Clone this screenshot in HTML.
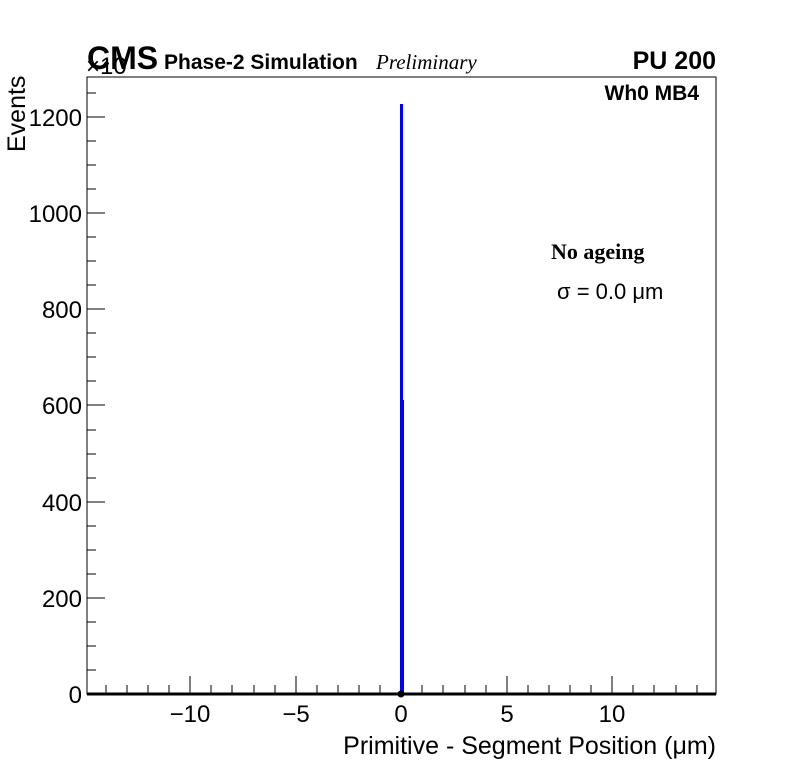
<!DOCTYPE html>
<html><head><style>body{margin:0;background:#fff}svg{display:block}</style></head><body>
<svg width="796" height="772" xmlns="http://www.w3.org/2000/svg" font-family="Liberation Sans, sans-serif">
<rect width="796" height="772" fill="#fff"/>
<rect x="87" y="77" width="629" height="617" fill="none" stroke="#000" stroke-width="1"/>
<g stroke="#000" stroke-width="1">
<path d="M87 694h18M87 598h18M87 502h18M87 405h18M87 309h18M87 213h18M87 117h18"/>
<path d="M87 670h9M87 646h9M87 622h9M87 574h9M87 550h9M87 526h9M87 478h9M87 454h9M87 430h9M87 381h9M87 357h9M87 333h9M87 285h9M87 261h9M87 237h9M87 189h9M87 165h9M87 141h9M87 93h9"/>
<path d="M190 694v-18M296 694v-18M401 694v-18M507 694v-18M612 694v-18"/>
<path d="M106 694v-9M127 694v-9M148 694v-9M169 694v-9M211 694v-9M232 694v-9M254 694v-9M275 694v-9M317 694v-9M338 694v-9M359 694v-9M380 694v-9M422 694v-9M443 694v-9M465 694v-9M486 694v-9M528 694v-9M549 694v-9M570 694v-9M591 694v-9M633 694v-9M654 694v-9M676 694v-9M697 694v-9"/>
</g>
<line x1="87" y1="694" x2="716" y2="694" stroke="#000" stroke-width="3"/>
<rect x="400" y="104" width="3" height="590" fill="#0000ff"/>
<rect x="402" y="400" width="2" height="294" fill="#0000ff"/>
<circle cx="401" cy="694" r="3.5" fill="#000"/>
<g font-size="24" text-anchor="end">
<text x="82" y="703">0</text><text x="82" y="607">200</text><text x="82" y="511">400</text><text x="82" y="414">600</text><text x="82" y="318">800</text><text x="82" y="222">1000</text><text x="82" y="126">1200</text>
</g>
<g font-size="24" text-anchor="middle">
<text x="190" y="722">−10</text><text x="296" y="722">−5</text><text x="401" y="722">0</text><text x="507" y="722">5</text><text x="612" y="722">10</text>
</g>
<text x="716" y="754" font-size="25" text-anchor="end">Primitive - Segment Position (μm)</text>
<text transform="translate(25,152) rotate(-90)" font-size="25">Events</text>
<text x="86" y="74" font-size="24">×10</text>
<text x="87" y="69" font-size="32" font-weight="bold">CMS</text>
<text x="164" y="69" font-size="21" font-weight="bold">Phase-2 Simulation</text>
<text x="376" y="69" font-size="21" font-style="italic" font-family="Liberation Serif, serif">Preliminary</text>
<text x="716" y="69" font-size="25" font-weight="bold" text-anchor="end">PU 200</text>
<text x="699" y="100" font-size="21" font-weight="bold" text-anchor="end">Wh0 MB4</text>
<text x="551" y="259" font-size="22" font-weight="bold" font-family="Liberation Serif, serif">No ageing</text>
<text x="557" y="299" font-size="22">σ = 0.0 μm</text>
</svg>
</body></html>
